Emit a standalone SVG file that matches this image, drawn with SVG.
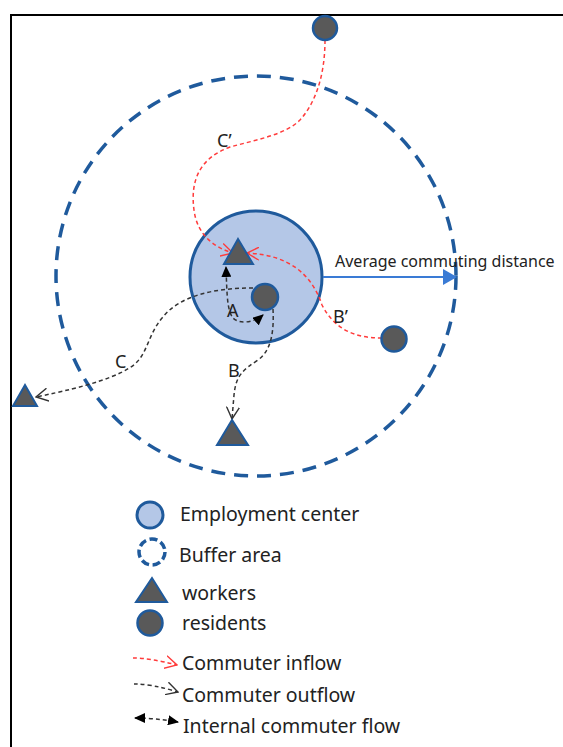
<svg xmlns="http://www.w3.org/2000/svg" width="563" height="747" viewBox="0 0 563 747">
<style>
.txt{font-family:"Noto Sans","Liberation Sans",sans-serif;fill:#222}
.lbl{font-size:18px}
.leg{font-size:19.5px}
.res{fill:#595959;stroke:#1F5A9C;stroke-width:2.5}
.wrk{fill:#595959;stroke:#1F5A9C;stroke-width:2}
.ec{fill:#B4C7E7;stroke:#1F5A9C;stroke-width:3}
.buf{fill:none;stroke:#1F5A9C;stroke-width:3.5}
.in{fill:none;stroke:#FF3B3B;stroke-width:1.5;stroke-dasharray:4 3}
.out{fill:none;stroke:#333;stroke-width:1.5;stroke-dasharray:4 3}
</style>
<defs>
<marker id="chevR" viewBox="0 0 13 14" refX="12" refY="7" markerWidth="13" markerHeight="14" orient="auto" markerUnits="userSpaceOnUse"><path d="M0,0.5 L12,7 L0,13.5" fill="none" stroke="#FF3B3B" stroke-width="1.4"/></marker>
<marker id="chevK" viewBox="0 0 13 14" refX="12" refY="7" markerWidth="13" markerHeight="14" orient="auto" markerUnits="userSpaceOnUse"><path d="M0,0.5 L12,7 L0,13.5" fill="none" stroke="#333" stroke-width="1.4"/></marker>
<marker id="triK" viewBox="0 0 11 10" refX="10" refY="5" markerWidth="11" markerHeight="10" orient="auto-start-reverse" markerUnits="userSpaceOnUse"><path d="M0,0 L11,5 L0,10 z" fill="#000"/></marker>
</defs>
<rect x="11" y="15" width="600" height="800" fill="none" stroke="#000" stroke-width="2"/>
<g id="buffer-area"><circle class="buf" cx="256" cy="276" r="200" stroke-dasharray="14 9"/></g>
<g id="employment-center"><circle class="ec" cx="256" cy="277" r="66"/></g>
<g id="distance-arrow">
<line x1="323" y1="277" x2="446" y2="277" stroke="#3A7BD5" stroke-width="2"/>
<polygon points="443,269 457,277 443,285" fill="#3A7BD5"/>
<text class="txt" x="335" y="267" font-size="16">Average commuting distance</text>
</g>
<g id="connectors">
<path id="c-prime" class="in" d="M325 40 C325 70,318 100,300 120 C285 135,255 140,230 147 C200 158,190 180,194 210 C197 235,215 248,233 253" marker-end="url(#chevR)"/>
<path id="b-prime" class="in" d="M382 338 C355 338,335 330,322 305 C312 275,290 255,247 253" marker-end="url(#chevR)"/>
<path id="c-flow" class="out" d="M253 288 C215 288,180 295,162 318 C148 335,148 352,135 364 C120 376,90 386,36 397" marker-end="url(#chevK)"/>
<path id="b-flow" class="out" d="M273 309 C274 330,272 350,258 360 C243 370,236 375,234 395 L232 419" marker-end="url(#chevK)"/>
<path id="a-flow" class="out" d="M263 315 C255 322,240 325,233 318 C227 310,227 295,226 267" marker-start="url(#triK)" marker-end="url(#triK)"/>
</g>
<g id="worker-center"><polygon class="wrk" points="238,239 224,264 253,264"/></g>
<g id="worker-left"><polygon class="wrk" points="25,385 13,406 37,406"/></g>
<g id="worker-bottom"><polygon class="wrk" points="232,420 217,445 248,445"/></g>
<g id="resident-top"><circle class="res" cx="325" cy="28" r="12"/></g>
<g id="resident-center"><circle class="res" cx="265" cy="297" r="13"/></g>
<g id="resident-right"><circle class="res" cx="394" cy="339" r="12.5"/></g>
<g id="labels">
<text class="txt lbl" x="217" y="147">C’</text>
<text class="txt lbl" x="333" y="323">B’</text>
<text class="txt lbl" x="227" y="317">A</text>
<text class="txt lbl" x="228" y="377">B</text>
<text class="txt lbl" x="115" y="368">C</text>
</g>
<g id="legend">
<circle class="ec" cx="150" cy="515" r="13"/>
<text class="txt leg" x="180" y="521">Employment center</text>
<circle class="buf" cx="152" cy="552" r="13" stroke-width="3" stroke-dasharray="8 3.67"/>
<text class="txt leg" x="179" y="562">Buffer area</text>
<polygon class="wrk" points="152,578 136,602 167,602"/>
<text class="txt leg" x="182" y="600">workers</text>
<circle class="res" cx="150" cy="623" r="12.5"/>
<text class="txt leg" x="182" y="630">residents</text>
<path class="in" d="M133 658 Q150 658 177 665" marker-end="url(#chevR)"/>
<text class="txt leg" x="182" y="670">Commuter inflow</text>
<path class="out" d="M134 684 Q152 684 178 692" marker-end="url(#chevK)"/>
<text class="txt leg" x="182" y="702">Commuter outflow</text>
<path class="out" d="M135 718 Q155 718 178 722" marker-start="url(#triK)" marker-end="url(#triK)"/>
<text class="txt leg" x="183" y="733">Internal commuter flow</text>
</g>
</svg>
